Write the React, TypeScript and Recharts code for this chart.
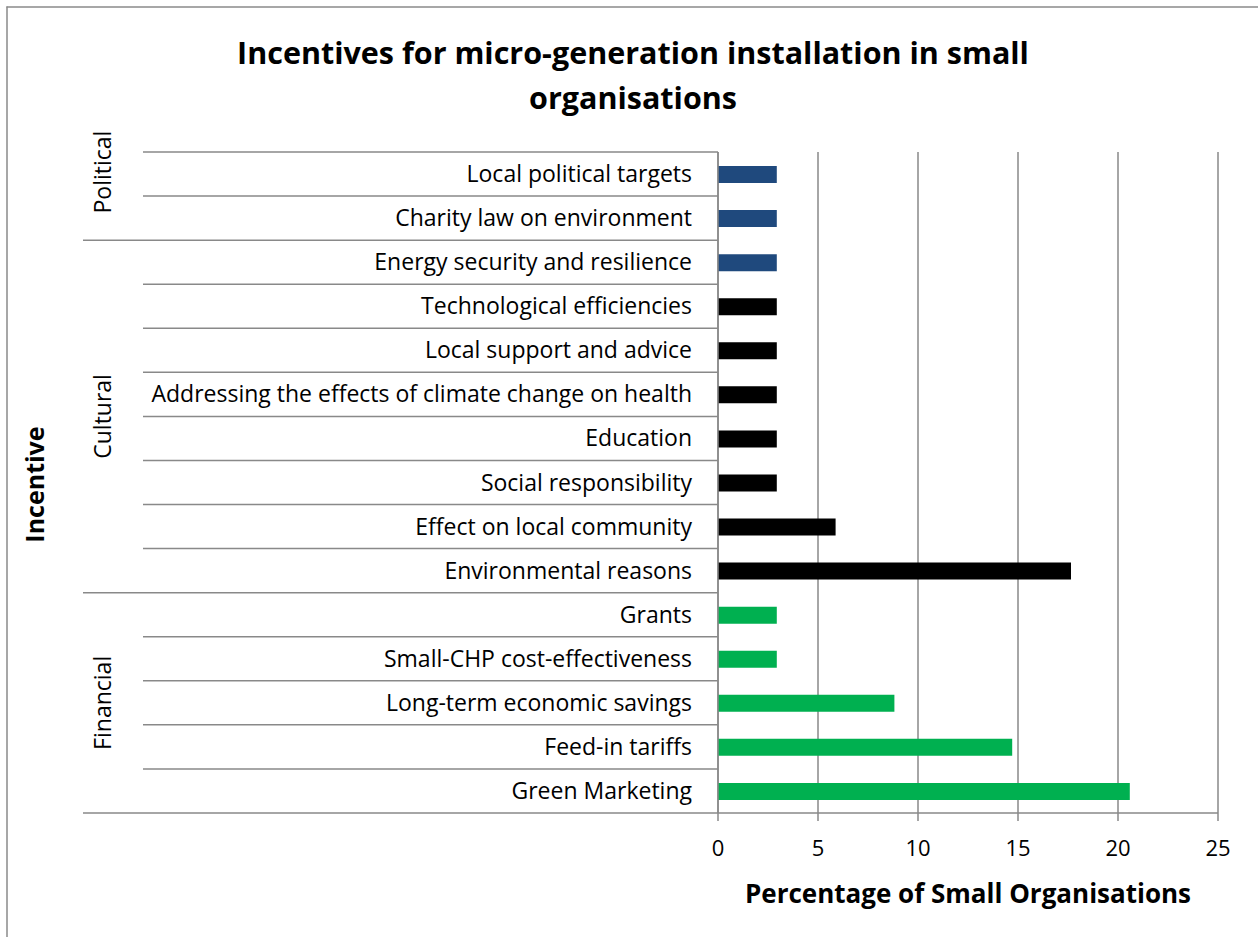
import React from 'react';
import { BarChart, Bar, XAxis, YAxis, CartesianGrid, Cell, Label } from 'recharts';

const categories = [
  'Local political targets',
  'Charity law on environment',
  'Energy security and resilience',
  'Technological efficiencies',
  'Local support and advice',
  'Addressing the effects of climate change on health',
  'Education',
  'Social responsibility',
  'Effect on local community',
  'Environmental reasons',
  'Grants',
  'Small-CHP cost-effectiveness',
  'Long-term economic savings',
  'Feed-in tariffs',
  'Green Marketing',
];
const percentages = [2.94, 2.94, 2.94, 2.94, 2.94, 2.94, 2.94, 2.94, 5.88, 17.65, 2.94, 2.94, 8.82, 14.71, 20.59];
const groupNames = ['Political', 'Cultural', 'Financial'];
const groupSizes = [2, 8, 5];
const xTicks = [0, 5, 10, 15, 20, 25];

const data = categories.map((c, i) => ({ category: c, value: percentages[i] }));

const BLUE = '#1F497D';
const BLACK = '#000000';
const GREEN = '#00B050';
const colorFor = (i: number) => (i < 3 ? BLUE : i < 10 ? BLACK : GREEN);

const W = 1258;
const H = 937;
const M = { top: 152, right: 40, left: 0, bottom: 14 };
const Y_W = 718;
const X_H = 110;
const PLOT_H = H - M.top - M.bottom - X_H;
const BAND = PLOT_H / categories.length;
const FONT = '"Open Sans", sans-serif';
const LINE = '#898989';

const groupStart: number[] = [];
{
  let s = 0;
  groupSizes.forEach((g) => {
    groupStart.push(s);
    s += g;
  });
}
const groupOffsets = [-24, 0, 0];

const YTick = (props: any) => {
  const { y, payload, index } = props;
  const top = y - BAND / 2;
  const gi = groupStart.indexOf(index);
  const isGroupStart = gi >= 0 && index !== 0;
  const last = index === categories.length - 1;
  const gy = gi >= 0 ? top + (groupSizes[gi] * BAND) / 2 + groupOffsets[gi] : 0;
  return (
    <g>
      {index === 0 && (
        <g>
          <line x1={7} x2={7} y1={6.5} y2={H} stroke="#8a8a8a" strokeWidth={1.5} />
          <line x1={6.5} x2={W} y1={7} y2={7} stroke="#8a8a8a" strokeWidth={1.5} />
        </g>
      )}
      <line x1={isGroupStart ? 83 : 143} x2={Y_W} y1={top} y2={top} stroke={LINE} strokeWidth={1.5} />
      {last && <line x1={83} x2={Y_W} y1={top + BAND} y2={top + BAND} stroke={LINE} strokeWidth={1.5} />}
      <text x={Y_W - 26} y={y} dy="0.35em" textAnchor="end" fontFamily={FONT} fontSize={23} fill="#000">
        {payload.value}
      </text>
      {gi >= 0 && (
        <text
          x={103}
          y={gy}
          transform={`rotate(-90 103 ${gy})`}
          textAnchor="middle"
          dy="0.35em"
          fontFamily={FONT}
          fontSize={23}
          fill="#000"
        >
          {groupNames[gi]}
        </text>
      )}
    </g>
  );
};

export default function App() {
  return (
    <div
      style={{
        position: 'absolute',
        left: 0,
        top: 0,
        width: W,
        height: H,
        background: '#fff',
      }}
    >
      <div
        style={{
          position: 'absolute',
          left: 8,
          top: 30,
          width: 1250,
          textAlign: 'center',
          fontFamily: FONT,
          fontWeight: 700,
          fontSize: 30.5,
          lineHeight: '45px',
          color: '#000',
          whiteSpace: 'nowrap',
        }}
      >
        Incentives for micro-generation installation in small
        <br />
        organisations
      </div>
      <div style={{ position: 'absolute', left: 0, top: 0 }}>
        <BarChart width={W} height={H} data={data} layout="vertical" margin={M} barCategoryGap={0}>
          <CartesianGrid horizontal={false} vertical stroke={LINE} strokeWidth={1.5} />
          <XAxis
            type="number"
            domain={[0, 25]}
            ticks={xTicks}
            interval={0}
            height={X_H}
            axisLine={{ stroke: LINE, strokeWidth: 1.5 }}
            tickLine={{ stroke: LINE, strokeWidth: 1.5 }}
            tickSize={8}
            tickMargin={19}
            tick={{ fontFamily: FONT, fontSize: 22, fill: '#000' }}
          >
            <Label
              value="Percentage of Small Organisations"
              position="insideBottom"
              offset={20}
              style={{ fontFamily: FONT, fontSize: 26, fontWeight: 700, fill: '#000' }}
            />
          </XAxis>
          <YAxis
            type="category"
            dataKey="category"
            width={Y_W}
            interval={0}
            tick={<YTick />}
            tickLine={false}
            axisLine={{ stroke: LINE, strokeWidth: 1.5 }}
          >
            <Label
              content={(p: any) => {
                const vb = p.viewBox || {};
                const cy = (vb.y || 0) + (vb.height || 0) / 2 + 2;
                return (
                  <text
                    x={35}
                    y={cy}
                    transform={`rotate(-90 35 ${cy})`}
                    textAnchor="middle"
                    dy="0.35em"
                    fontFamily={FONT}
                    fontSize={25}
                    fontWeight={700}
                    fill="#000"
                  >
                    Incentive
                  </text>
                );
              }}
            />
          </YAxis>
          <Bar dataKey="value" barSize={17} isAnimationActive={false}>
            {data.map((d, i) => (
              <Cell key={d.category} fill={colorFor(i)} />
            ))}
          </Bar>
        </BarChart>
      </div>
    </div>
  );
}
